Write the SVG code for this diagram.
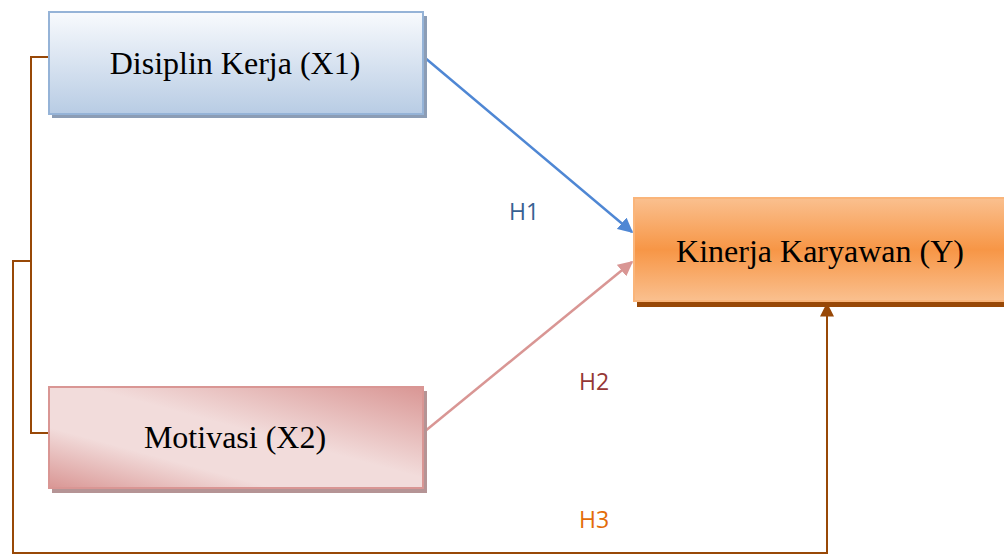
<svg xmlns="http://www.w3.org/2000/svg" width="1004" height="556" viewBox="0 0 1004 556">
<defs>
<linearGradient id="gBlue" x1="0" y1="0" x2="0" y2="1">
<stop offset="0" stop-color="#f8fafd"/>
<stop offset="1" stop-color="#b8cce4"/>
</linearGradient>
<linearGradient id="gPink" x1="0" y1="1" x2="1" y2="0">
<stop offset="0" stop-color="#d99694"/>
<stop offset="0.3" stop-color="#f2dcdb"/>
<stop offset="0.55" stop-color="#f2dcdb"/>
<stop offset="1" stop-color="#d99694"/>
</linearGradient>
<linearGradient id="gOrange" x1="0" y1="0" x2="0" y2="1">
<stop offset="0" stop-color="#fac08f"/>
<stop offset="0.5" stop-color="#f79646"/>
<stop offset="1" stop-color="#fac08f"/>
</linearGradient>
<marker id="aBlue" viewBox="0 0 10 10" refX="9" refY="5" markerWidth="6" markerHeight="6" orient="auto" markerUnits="strokeWidth">
<path d="M0,0 L10,5 L0,10 z" fill="#4f87d4"/>
</marker>
<marker id="aPink" viewBox="0 0 10 10" refX="9" refY="5" markerWidth="6" markerHeight="6" orient="auto" markerUnits="strokeWidth">
<path d="M0,0 L10,5 L0,10 z" fill="#d99694"/>
</marker>
<marker id="aBrown" viewBox="0 0 10 10" refX="9" refY="5" markerWidth="7" markerHeight="7" orient="auto" markerUnits="strokeWidth">
<path d="M0,0 L10,5 L0,10 z" fill="#984807"/>
</marker>
</defs>
<style>
.lbl{font-family:"Liberation Serif","Times New Roman",serif;font-size:32px;fill:#000;text-anchor:middle}
.h{font-family:"Open Sans","Liberation Sans",sans-serif;font-size:23px}
.brown{fill:none;stroke:#984807;stroke-width:2}
</style>
<rect width="1004" height="556" fill="#fff"/>
<g id="connectors">
<polyline class="brown" points="48,57 31,57 31,433 48,433"/>
<polyline class="brown" points="31,261 13,261 13,553 827,553 827,304" marker-end="url(#aBrown)"/>
<line x1="424" y1="57" x2="632" y2="232" stroke="#4f87d4" stroke-width="2.5" marker-end="url(#aBlue)"/>
<line x1="424" y1="432" x2="632" y2="262" stroke="#d99694" stroke-width="2.5" marker-end="url(#aPink)"/>
</g>
<g id="x1">
<rect x="52" y="16" width="375" height="102" fill="#8c9db5"/>
<rect x="49" y="12" width="374" height="102" fill="url(#gBlue)" stroke="#95b3d7" stroke-width="2"/>
<text class="lbl" x="235" y="74">Disiplin Kerja (X1)</text>
</g>
<g id="x2">
<rect x="52" y="391" width="375" height="102" fill="#b59495"/>
<rect x="49" y="387" width="374" height="101" fill="url(#gPink)" stroke="#d99694" stroke-width="2"/>
<text class="lbl" x="235" y="448">Motivasi (X2)</text>
</g>
<g id="y">
<rect x="637" y="203" width="380" height="104" fill="#984807"/>
<rect x="634" y="198" width="380" height="103" fill="url(#gOrange)" stroke="#fab57a" stroke-width="2"/>
<text class="lbl" x="820" y="262">Kinerja Karyawan (Y)</text>
</g>
<g id="labels">
<text class="h" x="509" y="220" fill="#376092">H1</text>
<text class="h" x="579" y="390" fill="#953735">H2</text>
<text class="h" x="579" y="528" fill="#e36c09">H3</text>
</g>
</svg>
